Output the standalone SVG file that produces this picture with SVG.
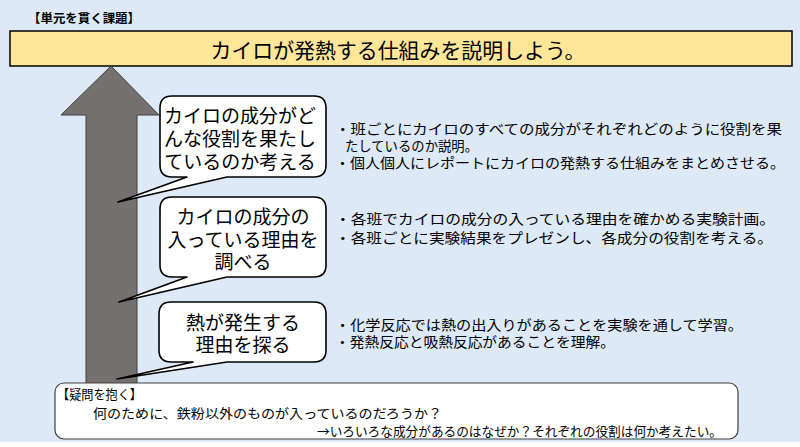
<svg xmlns="http://www.w3.org/2000/svg" width="800" height="447" viewBox="0 0 800 447">
<style>
text{font-family:"Noto Sans CJK JP","Noto Sans CJK SC",sans-serif;fill:#000}
.bub{fill:#fff;stroke:#000;stroke-width:1.6;stroke-linejoin:round}
.bt{font-size:19px;text-anchor:middle}
.rt{font-size:14px}
.bx{font-size:13px}
</style>
<rect x="0" y="0" width="800" height="442" fill="#dde9f6"/>
<rect x="0" y="442" width="800" height="5" fill="#ffffff"/>

<g id="title">
<text x="28" y="23" style="font-size:12.5px;font-weight:bold" textLength="112" lengthAdjust="spacingAndGlyphs">【単元を貫く課題】</text>
<rect x="10" y="31" width="782" height="35" fill="#ffe699" stroke="#000" stroke-width="1.5"/>
<text x="398" y="58" style="font-size:21px" text-anchor="middle" textLength="375" lengthAdjust="spacingAndGlyphs">カイロが発熱する仕組みを説明しよう。</text>
</g>

<g id="arrow">
<path d="M111,66 L159,115 L137,115 L137,384 L86,384 L86,115 L61,115 Z" fill="#767171" stroke="#3f3f3f" stroke-width="1"/>
</g>

<g id="bubble1">
<path class="bub" d="M172,96 H314 Q326,96 326,108 V165 Q326,177 314,177 H227 L118,202 L187,177 H172 Q160,177 160,165 V108 Q160,96 172,96 Z"/>
<text class="bt" x="240" y="123">カイロの成分がど</text>
<text class="bt" x="240" y="146">んな役割を果たし</text>
<text class="bt" x="240" y="169">ているのか考える</text>
</g>

<g id="bubble2">
<path class="bub" d="M172,197 H314 Q326,197 326,209 V265 Q326,277 314,277 H227 L119,302 L187,277 H172 Q160,277 160,265 V209 Q160,197 172,197 Z"/>
<text class="bt" x="243" y="224">カイロの成分の</text>
<text class="bt" x="243" y="247">入っている理由を</text>
<text class="bt" x="243" y="269">調べる</text>
</g>

<g id="bubble3">
<path class="bub" d="M171,302 H314 Q326,302 326,314 V350 Q326,362 314,362 H227 L117,379 L193,362 H171 Q159,362 159,350 V314 Q159,302 171,302 Z"/>
<text class="bt" x="243" y="330">熱が発生する</text>
<text class="bt" x="243" y="352">理由を探る</text>
</g>

<g id="notes1">
<text class="rt" x="335" y="134" textLength="447" lengthAdjust="spacingAndGlyphs">・班ごとにカイロのすべての成分がそれぞれどのように役割を果</text>
<text class="rt" x="345" y="151" textLength="133" lengthAdjust="spacingAndGlyphs">たしているのか説明。</text>
<text class="rt" x="335" y="168" textLength="450" lengthAdjust="spacingAndGlyphs">・個人個人にレポートにカイロの発熱する仕組みをまとめさせる。</text>
</g>

<g id="notes2">
<text class="rt" x="335" y="224" textLength="440" lengthAdjust="spacingAndGlyphs">・各班でカイロの成分の入っている理由を確かめる実験計画。</text>
<text class="rt" x="335" y="243" textLength="438" lengthAdjust="spacingAndGlyphs">・各班ごとに実験結果をプレゼンし、各成分の役割を考える。</text>
</g>

<g id="notes3">
<text class="rt" x="335" y="330" textLength="408" lengthAdjust="spacingAndGlyphs">・化学反応では熱の出入りがあることを実験を通して学習。</text>
<text class="rt" x="335" y="347" textLength="280" lengthAdjust="spacingAndGlyphs">・発熱反応と吸熱反応があることを理解。</text>
</g>

<g id="question">
<rect x="55" y="383" width="683" height="56" rx="9" ry="9" fill="#fff" stroke="#404040" stroke-width="1.2"/>
<text class="bx" x="57" y="399" textLength="85" lengthAdjust="spacingAndGlyphs">【疑問を抱く】</text>
<text class="bx" x="93" y="418" textLength="349" lengthAdjust="spacingAndGlyphs">何のために、鉄粉以外のものが入っているのだろうか？</text>
<text class="bx" x="317" y="436" textLength="405" lengthAdjust="spacingAndGlyphs">→いろいろな成分があるのはなぜか？それぞれの役割は何か考えたい。</text>
</g>
</svg>
